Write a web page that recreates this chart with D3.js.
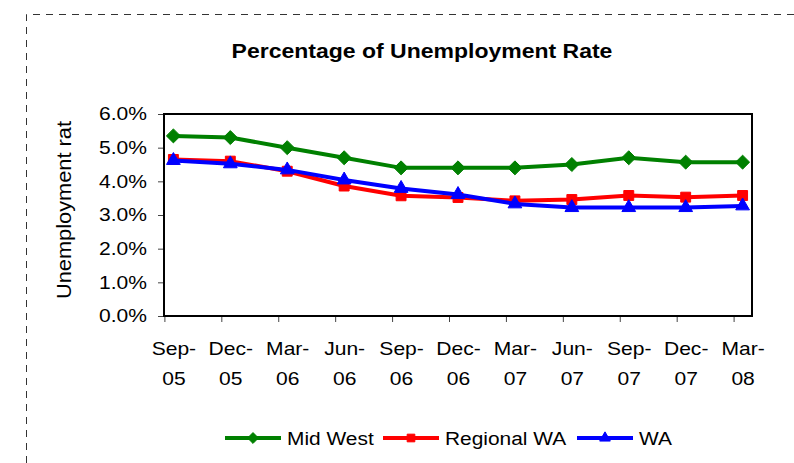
<!DOCTYPE html>
<html lang="en">

<head>
  <meta charset="UTF-8">
  <title>Percentage of Unemployment Rate</title>
  <script src="https://d3js.org/d3.v7.min.js"></script>
  <style>
    body { margin: 0; background: #fff; }
    text { font-family: "Liberation Sans", Arial, sans-serif; fill: #000; }
  </style>
</head>

<body>
</body>
<script>
  // data
  const categories = ["Sep-05", "Dec-05", "Mar-06", "Jun-06", "Sep-06", "Dec-06",
    "Mar-07", "Jun-07", "Sep-07", "Dec-07", "Mar-08"];
  const midWest = [5.35, 5.3, 5.0, 4.7, 4.4, 4.4, 4.4, 4.5, 4.7, 4.57, 4.57];
  const regionalWA = [4.65, 4.6, 4.3, 3.86, 3.57, 3.52, 3.42, 3.46, 3.58, 3.53, 3.58];
  const wa = [4.62, 4.52, 4.34, 4.04, 3.79, 3.61, 3.33, 3.22, 3.22, 3.22, 3.27];
  const yTicks = [0, 1, 2, 3, 4, 5, 6];

  const series = [
    { name: "Mid West", values: midWest, color: "#008000", symbol: d3.symbolDiamond2, size: 125 },
    { name: "Regional WA", values: regionalWA, color: "#ff0000", symbol: d3.symbolSquare2, size: 125 },
    { name: "WA", values: wa, color: "#0000ff", symbol: d3.symbolTriangle2, size: 135 }
  ];

  const width = 794
  const height = 463
  const plot = { left: 164, right: 752, top: 114, bottom: 316 };
  const sx = 1.17  // the original's text is a bit wider than Arial

  const svg = d3.select("body")
    .append("svg")
    .attr("width", width)
    .attr("height", height)

  // dashed outer frame (only top & left visible)
  svg.append("path")
    .attr("d", "M26.5," + height + "V14.5H" + width)
    .attr("fill", "none")
    .attr("stroke", "#333")
    .attr("stroke-dasharray", "7,6")

  // title
  svg.append("text")
    .attr("transform", "translate(422,58) scale(1.15,1)")
    .attr("text-anchor", "middle")
    .attr("font-size", 20)
    .attr("font-weight", "bold")
    .text("Percentage of Unemployment Rate")

  // scales
  const x = d3.scalePoint()
    .domain(categories)
    .range([plot.left, plot.right])
    .padding(0.165)
  const y = d3.scaleLinear()
    .domain([0, 6])
    .range([plot.bottom, plot.top])

  // y axis
  const yAxis = svg.append("g")
    .attr("transform", "translate(" + plot.left + ",0)")
    .call(d3.axisLeft(y).tickValues(yTicks).tickSize(6)
      .tickFormat(d => d.toFixed(1) + "%"))
  yAxis.select(".domain").remove()
  yAxis.selectAll("line").attr("stroke", "#444")
  yAxis.selectAll("text")
    .attr("font-size", 18)
    .attr("font-family", null)
    .attr("x", -17 / sx)
    .attr("transform", "scale(" + sx + ",1)")

  // x axis, ticks sit a bit left of the points like the original
  const xAxis = svg.append("g")
    .attr("transform", "translate(0," + plot.bottom + ")")
    .call(d3.axisBottom(x).tickSize(6))
  xAxis.select(".domain").remove()
  xAxis.selectAll("line")
    .attr("stroke", "#444")
    .attr("x1", -9)
    .attr("x2", -9)
  xAxis.selectAll(".tick text").each(function (d) {
    const parts = d.split("-")
    const t = d3.select(this)
      .attr("font-size", 18)
      .attr("font-family", null)
      .attr("transform", "scale(" + sx + ",1)")
      .attr("y", 0)
      .attr("dy", null)
      .text(null)
    t.append("tspan").attr("x", 0).attr("y", 39).text(parts[0] + "-")
    t.append("tspan").attr("x", 0).attr("y", 69).text(parts[1])
  })

  // plot frame
  svg.append("rect")
    .attr("x", plot.left)
    .attr("y", plot.top)
    .attr("width", plot.right - plot.left)
    .attr("height", plot.bottom - plot.top)
    .attr("fill", "none")
    .attr("stroke", "#000")
    .attr("stroke-width", 2)

  // lines
  const line = d3.line()
    .x((d, i) => x(categories[i]))
    .y(d => y(d))

  series.forEach(s => {
    const g = svg.append("g")
    g.append("path")
      .attr("d", line(s.values))
      .attr("fill", "none")
      .attr("stroke", s.color)
      .attr("stroke-width", 4)
    g.selectAll("path.mark")
      .data(s.values)
      .enter()
      .append("path")
      .attr("class", "mark")
      .attr("transform", (d, i) => "translate(" + x(categories[i]) + "," + y(d) + ")")
      .attr("d", d3.symbol(s.symbol, s.size))
      .attr("fill", s.color)
      .attr("stroke", s.color)
      .attr("stroke-width", 1)
  })

  // legend
  const legendX = [225, 383, 577];
  const legend = svg.append("g")
    .attr("transform", "translate(0,438)")
  series.forEach((s, i) => {
    const lg = legend.append("g").attr("transform", "translate(" + legendX[i] + ",0)")
    lg.append("line")
      .attr("x1", 0)
      .attr("x2", 56)
      .attr("stroke", s.color)
      .attr("stroke-width", 4)
    lg.append("path")
      .attr("transform", "translate(28,0)")
      .attr("d", d3.symbol(s.symbol, s.size * 0.6))
      .attr("fill", s.color)
      .attr("stroke", s.color)
    lg.append("text")
      .attr("transform", "translate(62,7) scale(1.1,1)")
      .attr("font-size", 19)
      .text(s.name)
  })

  // y axis title
  svg.append("text")
    .attr("transform", "translate(71,210) rotate(-90) scale(1.09,1)")
    .attr("text-anchor", "middle")
    .attr("font-size", 20)
    .text("Unemployment rat")

</script>

</html>
